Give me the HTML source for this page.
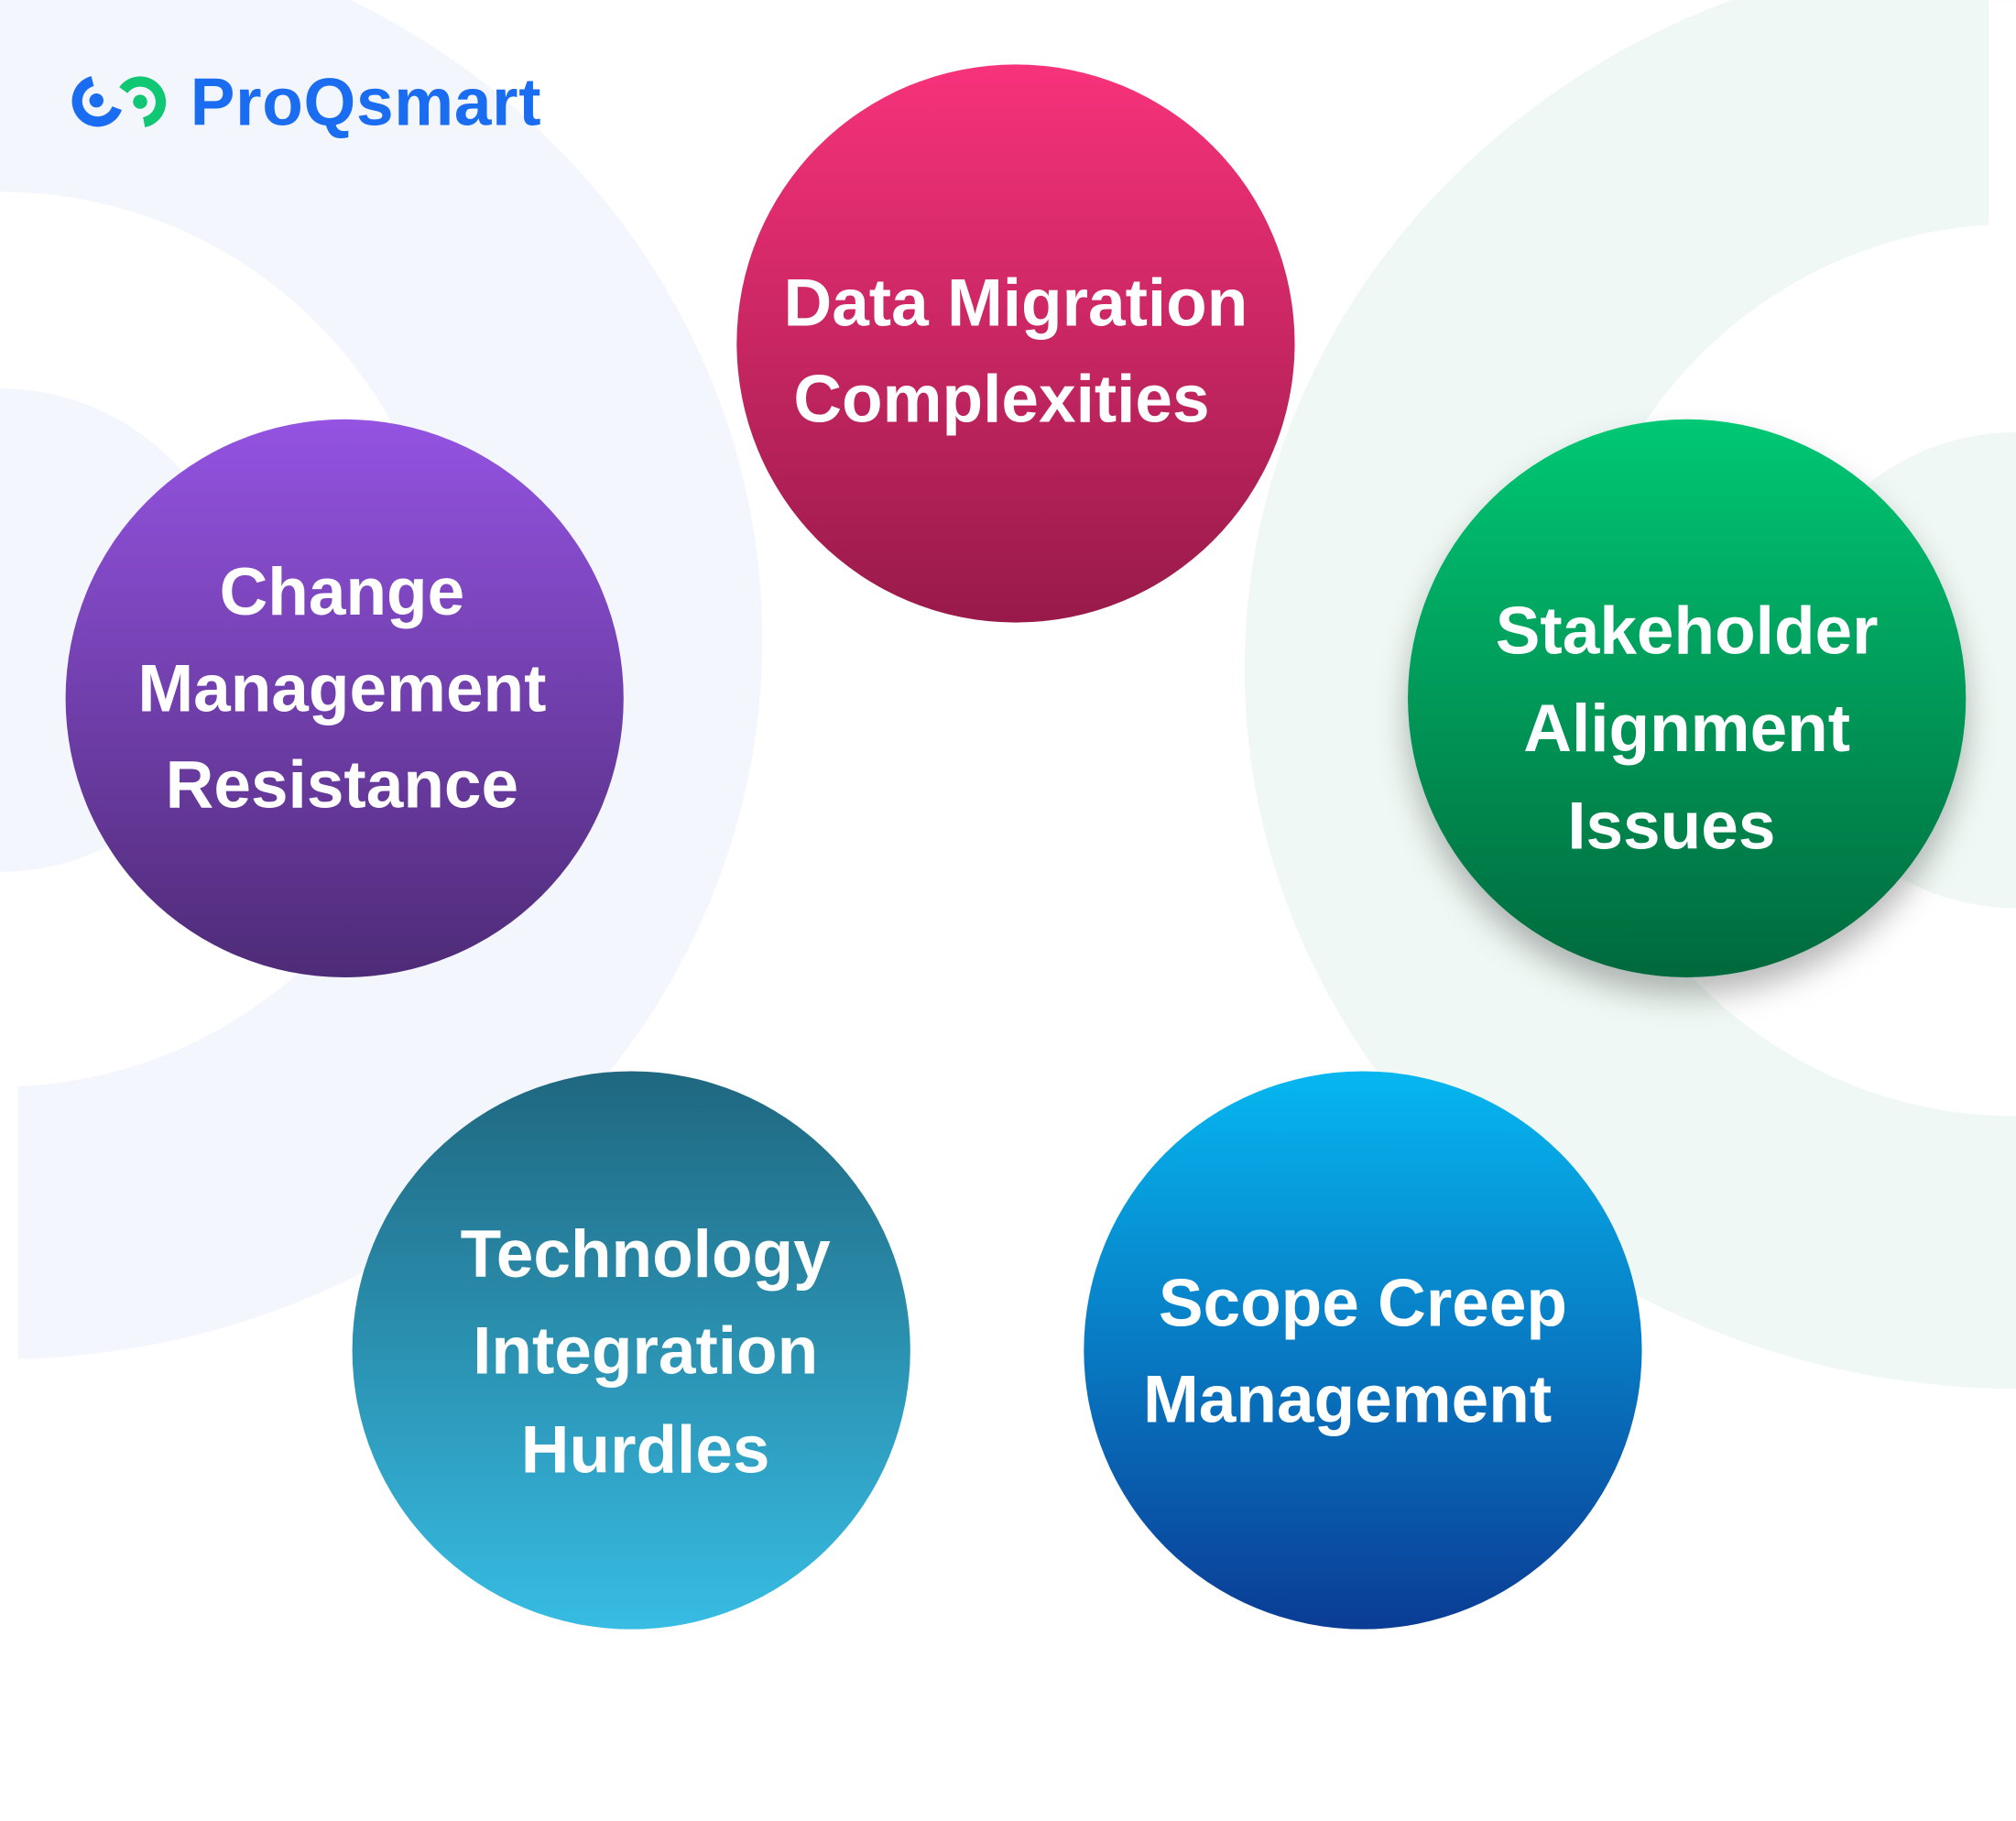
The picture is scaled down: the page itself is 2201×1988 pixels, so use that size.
<!DOCTYPE html>
<html><head><meta charset="utf-8">
<style>
html,body{margin:0;padding:0;background:#fff;}
svg{display:block;}
text{font-family:"Liberation Sans",Arial,sans-serif;}
</style></head>
<body>
<svg width="2201" height="1988" viewBox="0 0 1568 1416" xmlns="http://www.w3.org/2000/svg">
<defs>
<linearGradient id="g1" x1="0" y1="0" x2="0" y2="1"><stop offset="0" stop-color="#f7327b"/><stop offset="1" stop-color="#981a4a"/></linearGradient>
<linearGradient id="g2" x1="0" y1="0" x2="0" y2="1"><stop offset="0" stop-color="#9453e1"/><stop offset="1" stop-color="#4e2b77"/></linearGradient>
<linearGradient id="g3" x1="0" y1="0" x2="0" y2="1"><stop offset="0" stop-color="#05c874"/><stop offset="1" stop-color="#00693d"/></linearGradient>
<linearGradient id="g4" x1="0" y1="0" x2="0" y2="1"><stop offset="0" stop-color="#1f6780"/><stop offset="1" stop-color="#37bce3"/></linearGradient>
<linearGradient id="g5" x1="0" y1="0" x2="0" y2="1"><stop offset="0" stop-color="#06b7f0"/><stop offset="1" stop-color="#0a3c95"/></linearGradient>
<filter id="sh" x="-30%" y="-30%" width="160%" height="170%"><feDropShadow dx="0" dy="14" stdDeviation="12" flood-color="#000" flood-opacity="0.28"/></filter>
</defs>
<!-- left background -->
<ellipse cx="0" cy="497" rx="593" ry="560" fill="#f3f6fc"/>
<circle cx="0" cy="497" r="348" fill="#fff"/>
<rect x="0" y="845" width="14" height="260" fill="#fff"/>
<circle cx="0" cy="490" r="188" fill="#f3f6fc"/>
<!-- right background -->
<ellipse cx="1570" cy="520" rx="602" ry="560" fill="#eff8f4"/>
<circle cx="1568" cy="521" r="347" fill="#fff"/>
<rect x="1547" y="0" width="21" height="180" fill="#fff"/>
<circle cx="1568" cy="521" r="185" fill="#eff8f4"/>

<!-- logo -->
<path d="M72,63 A16,16 0 1 0 91,84" fill="none" stroke="#1a6cf0" stroke-width="8"/>
<circle cx="75" cy="78" r="5.5" fill="#1a6cf0"/>
<path d="M96,70 A16,16 0 1 1 112,95" fill="none" stroke="#10c774" stroke-width="8"/>
<circle cx="109" cy="79" r="5.5" fill="#10c774"/>
<text x="148" y="97" font-size="52" font-weight="bold" fill="#1a6cf0" letter-spacing="0.5">ProQsmart</text>

<!-- circles -->
<circle cx="790" cy="267" r="217" fill="url(#g1)"/>
<circle cx="268" cy="543" r="217" fill="url(#g2)"/>
<circle cx="1312" cy="543" r="217" fill="url(#g3)" filter="url(#sh)"/>
<circle cx="491" cy="1050" r="217" fill="url(#g4)"/>
<circle cx="1060" cy="1050" r="217" fill="url(#g5)"/>

<g fill="#fff" font-size="52" font-weight="bold" text-anchor="middle">
<text x="790" y="253">Data Migration</text>
<text x="779" y="328">Complexities</text>
<text x="266" y="478">Change</text>
<text x="266" y="553">Management</text>
<text x="266" y="628">Resistance</text>
<text x="1312" y="508">Stakeholder</text>
<text x="1312" y="584">Alignment</text>
<text x="1300" y="660">Issues</text>
<text x="502" y="993">Technology</text>
<text x="502" y="1068">Integration</text>
<text x="502" y="1145">Hurdles</text>
<text x="1060" y="1031">Scope Creep</text>
<text x="1048" y="1106">Management</text>
</g>
</svg>
</body></html>
